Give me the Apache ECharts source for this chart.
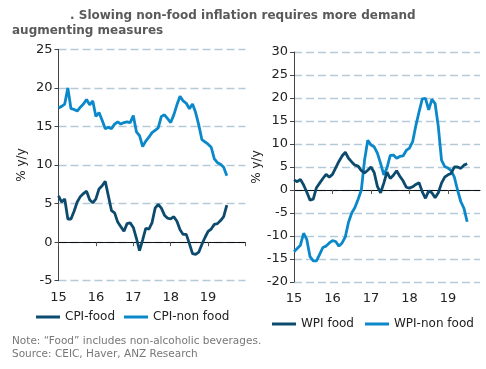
<!DOCTYPE html>
<html><head><meta charset="utf-8">
<script src="https://cdn.jsdelivr.net/npm/echarts@6/dist/echarts.min.js"></script>
<style>html,body{margin:0;padding:0;background:#fff}#c{width:486px;height:369px}</style>
</head><body><div id="c"></div>
<script>
// Monthly data, Jan 2015 .. Jul 2019
const yearLabels = ['15', '16', '17', '18', '19'];
const cpiFood = [6.0, 5.2, 5.6, 3.0, 3.0, 4.0, 5.2, 5.9, 6.3, 6.6, 5.5, 5.1,
  5.6, 6.9, 7.3, 7.9, 6.0, 4.1, 3.8, 2.6, 2.0, 1.4, 2.4, 2.5,
  1.9, 0.5, -1.1, 0.3, 1.8, 1.7, 2.5, 4.4, 4.9, 4.4, 3.5, 3.1,
  3.0, 3.3, 2.7, 1.6, 1.0, 1.0, -0.2, -1.5, -1.6, -1.3, -0.3, 0.6,
  1.4, 1.7, 2.3, 2.4, 2.8, 3.3, 4.8];
const cpiNonFood = [17.4, 17.6, 17.9, 20.0, 17.3, 17.2, 17.0, 17.5, 17.9, 18.5, 17.8, 18.3,
  16.3, 16.8, 15.8, 14.7, 14.9, 14.7, 15.3, 15.6, 15.3, 15.5, 15.6, 15.5,
  16.4, 14.3, 13.8, 12.4, 13.1, 13.6, 14.2, 14.5, 14.8, 16.3, 16.5, 16.0,
  15.5, 16.5, 17.8, 18.9, 18.3, 18.0, 17.3, 17.9, 16.8, 15.2, 13.3, 13.0,
  12.7, 12.3, 10.8, 10.3, 10.1, 9.7, 8.6];
const wpiFood = [2.2, 1.8, 2.3, 1.1, -0.5, -2.2, -2.0, 0.5, 1.5, 2.5, 3.4, 2.8,
  3.4, 4.8, 6.2, 7.4, 8.2, 6.9, 6.1, 5.4, 5.2, 4.2, 3.7, 4.3,
  5.0, 3.8, 0.8, -0.6, 1.5, 3.9, 2.5, 3.2, 4.2, 3.0, 2.0, 0.6,
  0.4, 0.7, 1.2, 1.6, -0.4, -1.8, -0.2, -0.6, -1.7, -0.6, 1.5, 2.8,
  3.3, 3.6, 5.0, 5.0, 4.7, 5.4, 5.7];
const wpiNonFood = [-13.4, -12.7, -12.0, -9.4, -10.8, -14.5, -15.4, -15.4, -14.0, -12.5, -12.2, -11.5,
  -11.0, -11.2, -12.2, -11.5, -10.2, -7.0, -5.0, -3.8, -2.0, 0.0, 6.5, 10.8,
  9.8, 9.4, 8.0, 5.8, 3.3, 4.8, 7.5, 7.6, 6.9, 7.3, 7.4, 8.6,
  9.1, 10.5, 14.0, 17.0, 19.8, 19.9, 17.4, 19.7, 18.8, 13.8, 6.5, 5.1,
  4.8, 4.2, 2.8, 0.0, -2.5, -4.0, -6.9];

const DARK = '#0c4a6e', LIGHT = '#0a88c9';
const FONT = 'DejaVu Sans';
function months(n) { const a = []; for (let i = 0; i < n; i++) a.push((2015 + Math.floor(i / 12)) + '-' + (i % 12 + 1)); return a; }
const leftCats = months(61), rightCats = months(59);
const yearTick = (i) => i % 12 === 0;
const yearLabel = (i) => i % 12 === 0 && i / 12 < yearLabels.length;

function labelAxis(cats, gi) {
  return { type: 'category', gridIndex: gi, data: cats, boundaryGap: false, position: 'bottom',
    axisLine: { show: false, onZero: false }, axisTick: { show: false },
    axisLabel: { interval: (i) => yearLabel(i), formatter: (v, i) => yearLabels[Math.floor(i / 12)],
      color: '#222', fontFamily: FONT, fontSize: 13, margin: 10 },
    splitLine: { show: false } };
}
function zeroAxis(cats, gi) {
  return { type: 'category', gridIndex: gi, data: cats, boundaryGap: false, position: 'top',
    axisLine: { show: true, onZero: true, lineStyle: { color: '#111', width: 1 } },
    axisTick: { show: true, inside: true, interval: (i) => yearTick(i), length: 4, lineStyle: { color: '#555' } },
    axisLabel: { show: false }, splitLine: { show: false } };
}
function yAxis(gi, min, max, gap) {
  return { type: 'value', gridIndex: gi, min: min, max: max, interval: 5,
    name: '% y/y', nameLocation: 'middle', nameGap: gap, nameRotate: 90,
    nameTextStyle: { color: '#222', fontFamily: FONT, fontSize: 12 },
    axisLine: { show: true, lineStyle: { color: '#444', width: 1 } },
    axisTick: { show: true, length: 4, lineStyle: { color: '#444' } },
    axisLabel: { color: '#222', fontFamily: FONT, fontSize: 13, margin: 6 },
    splitLine: { show: true, lineStyle: { color: '#b4cad6', type: [8, 4], width: 1.3 } } };
}
function line(name, data, color, xi, yi) {
  return { name: name, type: 'line', data: data, xAxisIndex: xi, yAxisIndex: yi, showSymbol: false,
    symbol: 'none', smooth: false, lineStyle: { color: color, width: 2.8 }, itemStyle: { color: color }, z: color === DARK ? 3 : 2 };
}

const chart = echarts.init(document.getElementById('c'), null, { renderer: 'canvas' });
chart.setOption({
  animation: false,
  backgroundColor: '#fff',
  textStyle: { fontFamily: FONT },
  title: [
    { text: '. Slowing non-food inflation requires more demand', left: 70, top: 10, padding: 0,
      textStyle: { fontFamily: FONT, fontSize: 12, fontWeight: 'bold', color: '#5a5a5a' } },
    { text: 'augmenting measures', left: 12, top: 25, padding: 0,
      textStyle: { fontFamily: FONT, fontSize: 12, fontWeight: 'bold', color: '#5a5a5a' } },
    { text: 'Note: \u201cFood\u201d includes non-alcoholic beverages.\nSource: CEIC, Haver, ANZ Research', left: 12, top: 335.5, padding: 0,
      textStyle: { fontFamily: FONT, fontSize: 10.5, fontWeight: 'normal', color: '#777', lineHeight: 12.5 } }
  ],
  grid: [
    { left: 58.5, right: 240.5, top: 49.3, bottom: 88.3 },
    { left: 294, right: 6, top: 52, bottom: 87 }
  ],
  xAxis: [labelAxis(leftCats, 0), zeroAxis(leftCats, 0), labelAxis(rightCats, 1), zeroAxis(rightCats, 1)],
  yAxis: [yAxis(0, -5, 25, 31), yAxis(1, -20, 30, 31)],
  legend: [
    { data: ['CPI-food', 'CPI-non food'], left: 36, top: 311, padding: 0, width: 300, icon: 'rect', itemWidth: 24, itemHeight: 3, itemGap: 9,
      textStyle: { fontFamily: FONT, fontSize: 12, color: '#222' } },
    { data: ['WPI food', 'WPI-non food'], left: 272, top: 318, padding: 0, width: 300, icon: 'rect', itemWidth: 24, itemHeight: 3, itemGap: 11,
      textStyle: { fontFamily: FONT, fontSize: 12, color: '#222' } }
  ],
  series: [
    line('CPI-food', cpiFood, DARK, 0, 0),
    line('CPI-non food', cpiNonFood, LIGHT, 0, 0),
    line('WPI food', wpiFood, DARK, 2, 1),
    line('WPI-non food', wpiNonFood, LIGHT, 2, 1)
  ]
});
</script></body></html>
